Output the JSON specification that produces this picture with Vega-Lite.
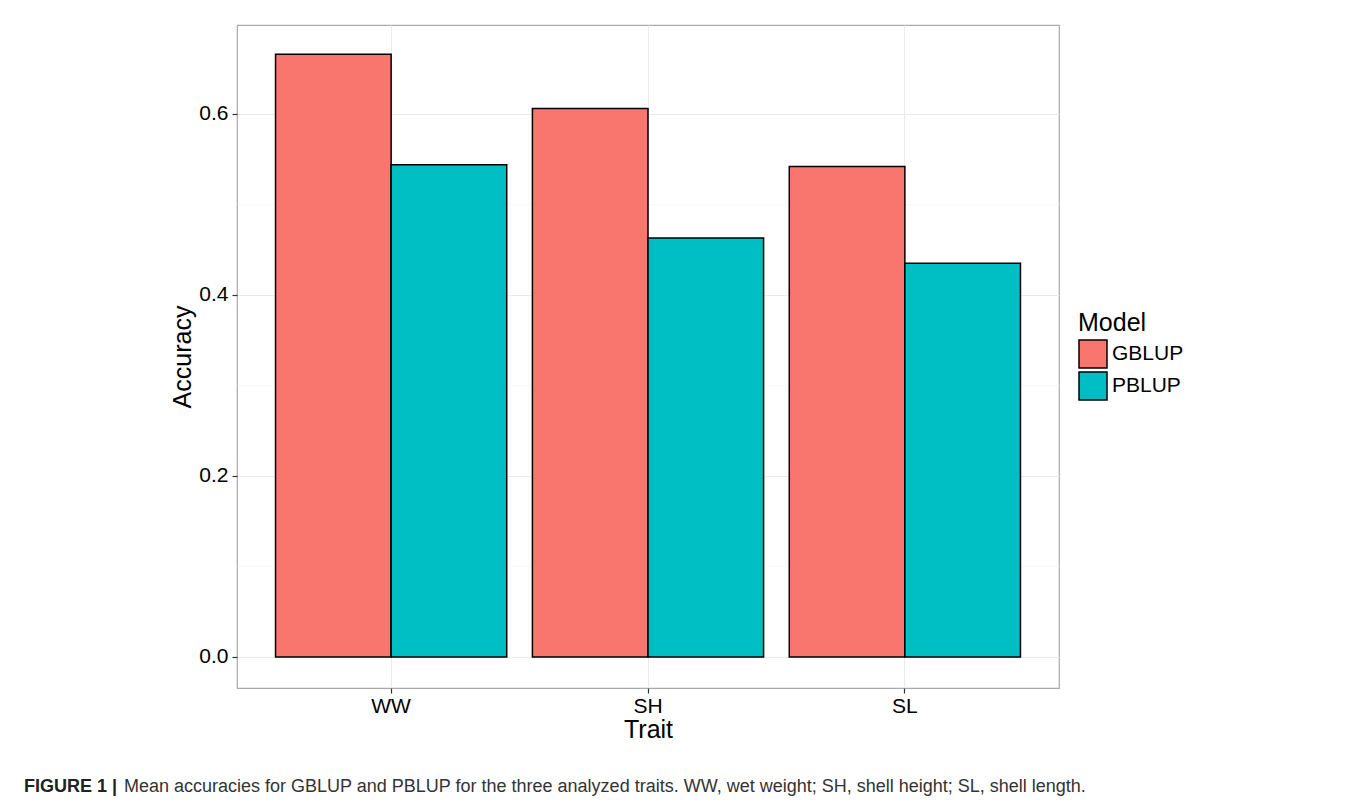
{
  "$schema": "https://vega.github.io/schema/vega-lite/v6.json",
  "width": 822,
  "height": 663,
  "autosize": {"type": "none"},
  "padding": {"left": 237, "top": 25, "right": 298, "bottom": 116},
  "background": "white",
  "title": {
    "text": "FIGURE 1 |",
    "subtitle": "\u200b\u00a0\u00a0\u00a0\u00a0\u00a0\u00a0\u00a0\u00a0\u00a0\u00a0\u00a0\u00a0\u00a0\u00a0\u00a0\u00a0\u00a0\u00a0\u00a0\u00a0Mean accuracies for GBLUP and PBLUP for the three analyzed traits. WW, wet weight; SH, shell height; SL, shell length.",
    "orient": "bottom",
    "anchor": "start",
    "frame": "group",
    "dx": -213,
    "offset": 36,
    "font": "Liberation Sans",
    "fontSize": 18,
    "fontWeight": "bold",
    "color": "#222222",
    "subtitleFont": "Liberation Sans",
    "subtitleFontSize": 18,
    "subtitleColor": "#333333",
    "subtitlePadding": -18
  },
  "data": {
    "values": [
      {"Trait": "WW", "Model": "GBLUP", "Accuracy": 0.666},
      {"Trait": "WW", "Model": "PBLUP", "Accuracy": 0.544},
      {"Trait": "SH", "Model": "GBLUP", "Accuracy": 0.606},
      {"Trait": "SH", "Model": "PBLUP", "Accuracy": 0.463},
      {"Trait": "SL", "Model": "GBLUP", "Accuracy": 0.542},
      {"Trait": "SL", "Model": "PBLUP", "Accuracy": 0.435}
    ]
  },
  "mark": {"type": "bar", "stroke": "black", "strokeWidth": 1.5},
  "encoding": {
    "x": {
      "field": "Trait",
      "type": "nominal",
      "sort": ["WW", "SH", "SL"],
      "scale": {"paddingInner": 0.1, "paddingOuter": 0.15},
      "axis": {
        "title": "Trait",
        "labelAngle": 0,
        "bandPosition": 0.5,
        "grid": true,
        "gridColor": "#ebebeb",
        "gridWidth": 1,
        "domain": false,
        "tickColor": "#333333",
        "tickSize": 5,
        "tickWidth": 1.2,
        "labelFontSize": 21,
        "labelPadding": 2,
        "titleFontSize": 25,
        "titlePadding": 1
      }
    },
    "xOffset": {
      "field": "Model",
      "type": "nominal",
      "scale": {"paddingInner": 0, "paddingOuter": 0}
    },
    "y": {
      "field": "Accuracy",
      "type": "quantitative",
      "scale": {"domain": [-0.0343, 0.6983], "nice": false, "zero": false},
      "axis": {
        "title": "Accuracy",
        "values": [0, 0.1, 0.2, 0.3, 0.4, 0.5, 0.6],
        "format": ".1f",
        "labelExpr": "round(datum.value*10)%2==0 ? datum.label : ''",
        "tickOpacity": {"condition": {"test": "round(datum.value*10)%2==1", "value": 0}, "value": 1},
        "gridColor": {"condition": {"test": "round(datum.value*10)%2==1", "value": "#f5f5f5"}, "value": "#ebebeb"},
        "gridWidth": {"condition": {"test": "round(datum.value*10)%2==1", "value": 0.6}, "value": 1},
        "domain": false,
        "tickColor": "#333333",
        "tickSize": 5,
        "tickWidth": 1.2,
        "labelFontSize": 21,
        "labelPadding": 4,
        "titleFontSize": 25,
        "titlePadding": 3
      }
    },
    "y2": {"datum": 0},
    "color": {
      "field": "Model",
      "type": "nominal",
      "scale": {"domain": ["GBLUP", "PBLUP"], "range": ["#F8766D", "#00BFC4"]},
      "legend": {
        "title": "Model",
        "orient": "none",
        "legendX": 841,
        "legendY": 286,
        "symbolType": "square",
        "symbolSize": 784,
        "symbolStrokeColor": "black",
        "symbolStrokeWidth": 1.5,
        "symbolOpacity": 1,
        "labelFontSize": 21,
        "labelOffset": 4,
        "titleFontSize": 25,
        "titleFontWeight": "normal",
        "titlePadding": 3,
        "rowPadding": -8
      }
    }
  },
  "config": {
    "font": "Liberation Sans",
    "view": {"stroke": "#aaaaaa", "strokeWidth": 1.2},
    "axis": {"labelColor": "black", "titleColor": "black", "titleFontWeight": "normal"},
    "legend": {"labelColor": "black", "titleColor": "black"}
  }
}
